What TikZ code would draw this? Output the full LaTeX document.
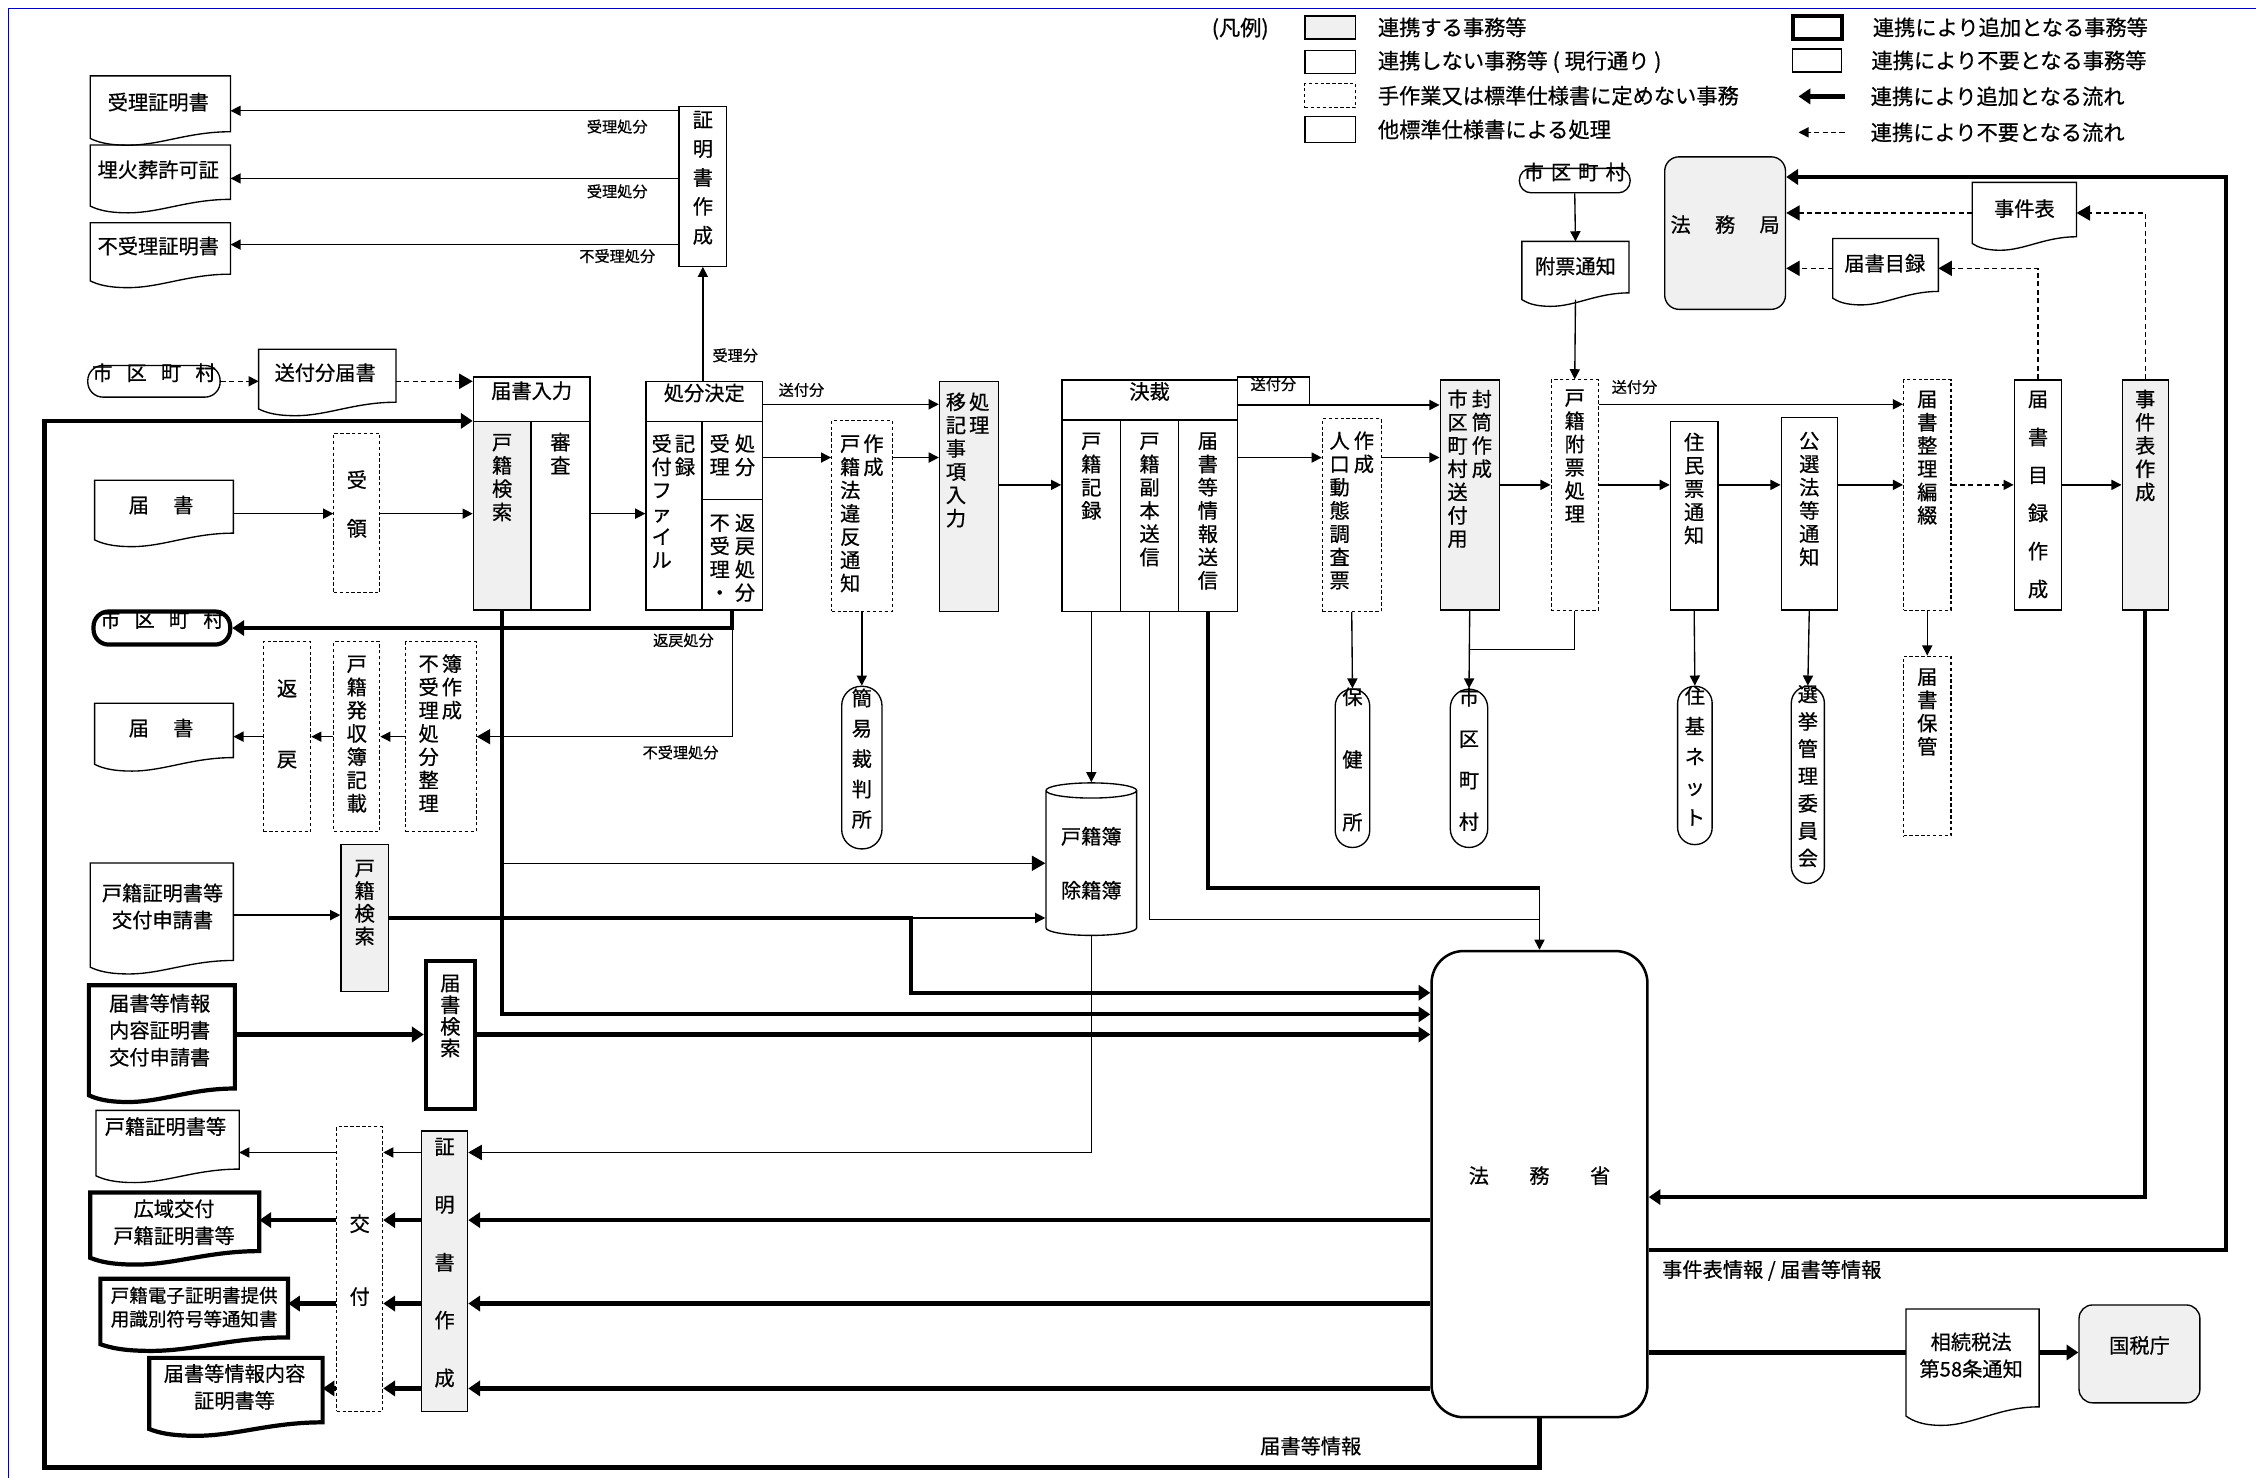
\documentclass[tikz,border=0pt]{standalone}
\usepackage{fontspec}
\setmainfont{Noto Sans CJK JP}[FakeBold=0.6]
\usetikzlibrary{arrows.meta, positioning, calc, fit, shapes.geometric}

% vertical text: one character per line, #1 = pitch
\makeatletter
\newcommand\tate[2][1.15em]{\vtop{\offinterlineskip\@tfor\tate@c:=#2\do{\hbox to 1em{\hss\vrule width 0pt height .88em depth .12em\tate@c\hss}\kern\dimexpr#1-1em\relax}\unkern}}
\makeatother

% document outline with wavy bottom
\newcommand\docshape[3][]{%
  \draw[line width=0.8pt,#1] let \p1=(#2.south west), \p2=(#2.north east), \n1={\x2-\x1} in
    (\p1) -- (\x1,\y2) -- (\p2) -- (\x2,\y1+#3)
    .. controls (\x2-0.3*\n1,\y1+#3) and (\x1+0.5*\n1,\y1-#3) .. (\x1+0.27*\n1,\y1-#3)
    .. controls (\x1+0.12*\n1,\y1-#3) and (\x1+0.05*\n1,\y1-0.5*#3) .. (\p1) -- cycle;}

\begin{document}
\begin{tikzpicture}[x=0.03cm, y=-0.03cm, inner sep=0pt,
  font=\fontsize{12}{14}\selectfont,
  box/.style={draw, line width=0.8pt},
  gbox/.style={box, fill=gray!12},
  dbox/.style={draw, line width=0.6pt, dash pattern=on 2pt off 1.5pt},
  tbox/.style={draw, line width=2.5pt},
  term/.style={box, rounded corners=#1}, term/.default=9pt,
  lbl/.style={font=\fontsize{9}{10}\selectfont},
  lg/.style={font=\fontsize{12.6}{14}\selectfont},
  ln/.style={line width=0.8pt},
  arr/.style={ln, -{Triangle[length=6pt,width=6pt]}},
  barr/.style={ln, -{Triangle[length=8pt,width=9pt]}},
  darr/.style={arr, dash pattern=on 3pt off 2pt},
  dbarr/.style={barr, dash pattern=on 3pt off 2pt},
  tline/.style={line width=2.5pt},
  tarr/.style={tline, -{Triangle[length=7pt,width=9pt]}}]

\useasboundingbox (0,0) rectangle (1568,1027);
\draw[blue!75!black, line width=0.6pt] (6,1027) -- (6,6) -- (1568,6);

% legend
\node[lg] (lg-title) at (862,20) {(凡例)};
\node[gbox, fit={(907,11)(942,27)}] (lg-1) {};
\node[lg, right=0.45cm of lg-1] (lg-1t) {連携する事務等};
\node[box, fit={(907,35)(942,51)}] (lg-2) {};
\node[lg, right=0.45cm of lg-2] (lg-2t) {連携しない事務等 ( 現行通り )};
\node[dbox, fit={(907,58)(942,75)}] (lg-3) {};
\node[lg, right=0.45cm of lg-3] (lg-3t) {手作業又は標準仕様書に定めない事務};
\node[box, fit={(907,81)(942,99)}] (lg-4) {};
\node[lg, right=0.45cm of lg-4] (lg-4t) {他標準仕様書による処理};
\node[tbox, fit={(1246,11)(1280,27)}] (lg-5) {};
\node[lg, right=0.6cm of lg-5] (lg-5t) {連携により追加となる事務等};
\node[box, fit={(1246,34)(1280,50)}] (lg-6) {};
\node[lg, right=0.6cm of lg-6] (lg-6t) {連携により不要となる事務等};
\coordinate (lg-7a) at (1282,67);
\coordinate (lg-7b) at (1250,67);
\draw[tarr] (lg-7a) -- (lg-7b);
\node[lg, right=0.54cm of lg-7a] (lg-7t) {連携により追加となる流れ};
\coordinate (lg-8a) at (1282,92);
\coordinate (lg-8b) at (1250,92);
\draw[darr] (lg-8a) -- (lg-8b);
\node[lg, right=0.54cm of lg-8a] (lg-8t) {連携により不要となる流れ};

% rows used by the connectors
\coordinate (row-sofu) at (0,281);
\coordinate (row-jyuri) at (0,318);
\coordinate (row-main) at (0,337);
\coordinate (row-in) at (0,357);
\coordinate (row-ret) at (0,512);
\coordinate (row-joho) at (0,617);
\coordinate (row-fukuhon) at (0,639);
\coordinate (row-koseki) at (0,690);
\coordinate (row-kensaku) at (0,705);
\coordinate (row-todoke) at (0,719);
\coordinate (row-c1) at (0,801);
\coordinate (row-jiken) at (0,832);
\coordinate (row-c2) at (0,848);
\coordinate (row-c3) at (0,906);
\coordinate (row-sozoku) at (0,940);
\coordinate (row-c4) at (0,965);

% certificates (top left)
\node[box, fit={(472,74)(505,185)}] (shomei-1) {\tate[1.43em]{証明書作成}};
\node[fit={(63,53)(160,96)}] (d-jyuri) {};
\node (d-jyuri-t) at (110,71) {受理証明書};
\node[fit={(63,101)(160,143)}] (d-maika) {};
\node (d-maika-t) at (110,118) {埋火葬許可証};
\node[fit={(63,155)(160,195)}] (d-fujyuri) {};
\node (d-fujyuri-t) at (110,171) {不受理証明書};
\docshape{d-jyuri}{4pt}
\docshape{d-maika}{4pt}
\docshape{d-fujyuri}{4pt}
\node[lbl] (l-jyuri-1) at (429,88) {受理処分};
\node[lbl] (l-jyuri-2) at (429,133) {受理処分};
\node[lbl] (l-fujyuri-1) at (429,178) {不受理処分};

% 届書入力
\node[term=9pt, fit={(61,254)(153,276)}] (shi-1) {市\hspace{.7em}区\hspace{.7em}町\hspace{.7em}村};
\node[fit={(180,243)(275,284)}] (d-sofu) {};
\node (d-sofu-t) at (226,259) {送付分届書};
\docshape{d-sofu}{4pt}
\node[box, fit={(329,262)(410,293)}] (todoke-h) {届書入力};
\node[gbox, fit={(329,293)(369,424)}] (kensaku-1) {};
\node[anchor=north] (kensaku-1t) at (349,300) {\tate{戸籍検索}};
\node[box, fit={(369,293)(410,424)}] (shinsa) {};
\node[anchor=north] (shinsa-t) at (389.5,300) {\tate{審査}};
\node[dbox, fit={(232,301)(264,412)}] (juryo) {\tate[2.4em]{受領}};
\node[fit={(66,334)(162,375)}] (d-todoke-1) {};
\node (d-todoke-1t) at (112,351) {届\hspace{1.2em}書};
\docshape{d-todoke-1}{4pt}

% 処分決定
\node[box, fit={(449,265)(530,293)}] (kettei-h) {処分決定};
\node[box, fit={(449,293)(488,424)}] (uketsuke) {};
\node[anchor=north] (uketsuke-t) at (468,301) {\tate{受付ファイル}\kern.15em\tate{記録}};
\node[box, fit={(488,293)(530,347)}] (jyuri) {};
\node[anchor=north] (jyuri-t) at (509,301) {\tate{受理}\kern.25em\tate{処分}};
\node[box, fit={(488,347)(530,424)}] (fujyuri) {};
\node[anchor=north] (fujyuri-t) at (509,356) {\tate{不受理・}\kern.25em\tate{返戻処分}};
\node[lbl] (l-jyuribun) at (511,247) {受理分};

% 返戻・不受理
\node[tbox, rounded corners=9pt, fit={(65,425)(160,448)}] (shi-2) {市\hspace{.7em}区\hspace{.7em}町\hspace{.7em}村};
\node[dbox, fit={(282,446)(331,578)}] (seiri) {};
\node[anchor=north] (seiri-t) at (306,454) {\tate{不受理処分整理}\kern.15em\tate{簿作成}};
\node[dbox, fit={(232,446)(264,578)}] (hasshu) {};
\node[anchor=north] (hasshu-t) at (248,454) {\tate{戸籍発収簿記載}};
\node[dbox, fit={(183,446)(216,578)}] (henrei) {};
\node (henrei-t) at (199.5,503) {\tate[3.5em]{返戻}};
\node[fit={(66,489)(162,531)}] (d-todoke-2) {};
\node (d-todoke-2t) at (112,506) {届\hspace{1.2em}書};
\docshape{d-todoke-2}{4pt}
\node[lbl] (l-henrei) at (475,445) {返戻処分};
\node[lbl] (l-fujyuri-2) at (473,523) {不受理処分};

% 違反通知・移記
\node[dbox, fit={(578,292)(620,425)}] (ihan) {};
\node[anchor=north] (ihan-t) at (599,301) {\tate{戸籍法違反通知}\kern.15em\tate{作成}};
\node[gbox, fit={(653,265)(694,425)}] (iki) {};
\node[anchor=north] (iki-t) at (672.5,272) {\tate{移記事項入力}\kern.15em\tate{処理}};
\node[term=11.5pt, fit={(585,477)(613,590)}] (kansai) {\tate[1.5em]{簡易裁判所}};
\node[lbl] (l-sofu-1) at (557,271) {送付分};

% 決裁
\node[box, fit={(738,264)(860,292)}] (kessai-h) {決裁};
\node[box, fit={(738,292)(779,425)}] (kiroku) {};
\node[anchor=north] (kiroku-t) at (758.5,299) {\tate{戸籍記録}};
\node[box, fit={(779,292)(819,425)}] (fukuhon) {};
\node[anchor=north] (fukuhon-t) at (799,299) {\tate{戸籍副本送信}};
\node[box, fit={(819,292)(860,425)}] (joho) {};
\node[anchor=north] (joho-t) at (839.5,299) {\tate{届書等情報送信}};
\node[box, lbl, fit={(860,262)(910,281)}] (l-sofu-2) {送付分};
\node[dbox, fit={(919,291)(960,425)}] (jinko) {};
\node[anchor=north] (jinko-t) at (939.5,299) {\tate{人口動態調査票}\kern.2em\tate{作成}};
\node[gbox, fit={(1001,264)(1042,424)}] (fuutou) {};
\node[anchor=north] (fuutou-t) at (1021.5,270) {\tate{市区町村送付用}\kern.2em\tate{封筒作成}};
\node[term=10pt, fit={(928,479)(952,589)}] (hokenjo) {\tate[3.1em]{保健所}};
\node[term=11pt, fit={(1008,479)(1034,589)}] (shi-3) {\tate[2.05em]{市区町村}};

% 附票
\node[term=7pt, fit={(1056,117)(1133,134)}] (shi-4) {市\hspace{.35em}区\hspace{.35em}町\hspace{.35em}村};
\node[fit={(1058,168)(1132,208)}] (d-fuhyo) {};
\node (d-fuhyo-t) at (1095,185) {附票通知};
\docshape{d-fuhyo}{4pt}
\node[dbox, fit={(1078,264)(1111,424)}] (fuhyo) {};
\node[anchor=north] (fuhyo-t) at (1094.5,269) {\tate{戸籍附票処理}};
\node[lbl] (l-sofu-3) at (1136,269) {送付分};

% 住民票・公選法
\node[box, fit={(1161,293)(1194,424)}] (jumin) {};
\node[anchor=north] (jumin-t) at (1177.5,300) {\tate{住民票通知}};
\node[term=10pt, fit={(1166,477)(1190,587)}] (jukinet) {\tate[1.5em]{住基ネット}};
\node[box, fit={(1238,290)(1277,424)}] (kousen) {};
\node[anchor=north] (kousen-t) at (1257.5,299) {\tate{公選法等通知}};
\node[term=10pt, fit={(1245,477)(1268,614)}] (senkyo) {\tate[1.35em]{選挙管理委員会}};

% 届書整理・目録・事件表
\node[dbox, fit={(1323,264)(1356,424)}] (hensetsu) {};
\node[anchor=north] (hensetsu-t) at (1339.5,270) {\tate{届書整理編綴}};
\node[dbox, fit={(1323,456)(1356,581)}] (hokan) {};
\node[anchor=north] (hokan-t) at (1339.5,463) {\tate{届書保管}};
\node[box, fit={(1400,264)(1433,424)}] (mokuroku) {};
\node[anchor=north] (mokuroku-t) at (1416.5,270) {\tate[1.88em]{届書目録作成}};
\node[gbox, fit={(1475,264)(1507,424)}] (jiken-s) {};
\node[anchor=north] (jiken-s-t) at (1491,270) {\tate{事件表作成}};

\node[gbox, rounded corners=8.5pt, fit={(1157,109)(1241,215)}] (houmukyoku) {法\hspace{1.2em}務\hspace{1.2em}局};
\node[fit={(1371,127)(1443,169)}] (d-jiken) {};
\node (d-jiken-t) at (1407,145) {事件表};
\docshape{d-jiken}{4pt}
\node[fit={(1274,166)(1347,207)}] (d-mokuroku) {};
\node (d-mokuroku-t) at (1310,183) {届書目録};
\docshape{d-mokuroku}{4pt}

% 法務省
\node[draw, line width=1.5pt, rounded corners=19pt, fit={(995,661)(1145,985)}] (houmusho) {法\hspace{2em}務\hspace{2em}省};
\node[anchor=west] (l-jiken) at (1155,883) {事件表情報 / 届書等情報};
\node[fit={(1325,910)(1417,984)}] (d-sozoku) {};
\node[align=center] (d-sozoku-t) at (1370,942) {相続税法\\[2pt]第58条通知};
\docshape{d-sozoku}{5.5pt}
\node[gbox, rounded corners=8pt, fit={(1445,907)(1529,975)}] (kokuzei) {国税庁};
\node (l-todoke) at (911,1005) {届書等情報};

% 戸籍簿
\node[cylinder, draw, line width=0.8pt, shape border rotate=90, aspect=0.25,
  minimum width=1.89cm, minimum height=3.18cm, align=center] (koseki-bo) at (758.5,600) {戸籍簿\\[18pt]除籍簿};

% 戸籍証明書・届書等情報の請求
\node[gbox, fit={(237,587)(270,689)}] (kensaku-2) {};
\node[anchor=north] (kensaku-2t) at (253.5,596) {\tate[1.12em]{戸籍検索}};
\node[fit={(63,600)(162,672)}] (d-shinsei-1) {};
\node[align=center] (d-shinsei-1t) at (113,630) {戸籍証明書等\\[2pt]交付申請書};
\docshape{d-shinsei-1}{4pt}
\node[fit={(62,685)(163,761)}] (d-shinsei-2) {};
\node[align=center] (d-shinsei-2t) at (111,716) {届書等情報\\[2pt]内容証明書\\[2pt]交付申請書};
\docshape[line width=2.5pt]{d-shinsei-2}{4pt}
\node[tbox, fit={(296,668)(330,771)}] (todoke-kensaku) {};
\node[anchor=north] (todoke-kensaku-t) at (313,676) {\tate[1.07em]{届書検索}};

% 証明書作成・交付
\node[gbox, fit={(293,786)(325,981)}] (shomei-2) {\tate[2.86em]{証明書作成}};
\node[dbox, fit={(234,783)(266,981)}] (koufu) {\tate[3.6em]{交付}};
\node[fit={(67,772)(166,817)}] (d-koseki) {};
\node (d-koseki-t) at (115,783) {戸籍証明書等};
\docshape{d-koseki}{4pt}
\node[fit={(63,829)(180,874)}] (d-kouiki) {};
\node[align=center] (d-kouiki-t) at (121,849.5) {広域交付\\[2pt]戸籍証明書等};
\docshape[line width=2.5pt]{d-kouiki}{4pt}
\node[fit={(70,889)(200,934)}] (d-denshi) {};
\node[align=center, font=\fontsize{11}{13}\selectfont] (d-denshi-t) at (135,908.5) {戸籍電子証明書提供\\[1pt]用識別符号等通知書};
\docshape[line width=2.5pt]{d-denshi}{4pt}
\node[fit={(104,944)(224,993)}] (d-todoke-sho) {};
\node[align=center] (d-todoke-sho-t) at (163,964) {届書等情報内容\\[2pt]証明書等};
\docshape[line width=2.5pt]{d-todoke-sho}{4pt}

% connectors
\draw[arr] (shomei-1.west |- 0,77) -- (d-jyuri.east |- 0,77);
\draw[arr] (shomei-1.west |- 0,124) -- (d-maika.east |- 0,124);
\draw[arr] (shomei-1.west |- 0,170) -- (d-fujyuri.east |- 0,170);
\draw[arr] (shomei-1.south |- kettei-h.north) -- (shomei-1.south);
\draw[darr] (shi-1.east) -- (shi-1.east -| d-sofu.west);
\draw[dbarr] (d-sofu.east |- shi-1.east) -- (shi-1.east -| todoke-h.west);
\draw[arr] (d-todoke-1.east |- row-in) -- (juryo.west |- row-in);
\draw[arr] (juryo.east |- row-in) -- (kensaku-1.west |- row-in);
\draw[arr] (shinsa.east |- row-in) -- (uketsuke.west |- row-in);
\draw[barr] (fujyuri.south) |- (seiri.east |- row-ret);
\draw[tarr] (fujyuri.south) |- (shi-2.east);
\draw[arr] (seiri.west |- row-ret) -- (hasshu.east |- row-ret);
\draw[arr] (hasshu.west |- row-ret) -- (henrei.east |- row-ret);
\draw[arr] (henrei.west |- row-ret) -- (d-todoke-2.east |- row-ret);
\draw[arr] (kettei-h.east |- row-sofu) -- (iki.west |- row-sofu);
\draw[arr] (jyuri.east |- row-jyuri) -- (ihan.west |- row-jyuri);
\draw[arr] (ihan.east |- row-jyuri) -- (iki.west |- row-jyuri);
\draw[arr] (ihan.south) -- (kansai.north);
\draw[arr] (iki.east |- row-main) -- (kiroku.west |- row-main);
\draw[arr] (l-sofu-2.south west) -- (l-sofu-2.south west -| fuutou.west);
\draw[arr] (joho.east |- row-jyuri) -- (jinko.west |- row-jyuri);
\draw[arr] (jinko.east |- row-jyuri) -- (fuutou.west |- row-jyuri);
\draw[arr] (jinko.south) -- (hokenjo.north);
\draw[arr] (fuutou.south) -- (shi-3.north);
\draw[arr] (shi-4.south) -- (d-fuhyo.north);
\draw[arr] (d-fuhyo.south) -- (fuhyo.north);
\draw[arr] (fuutou.east |- row-main) -- (fuhyo.west |- row-main);
\draw[ln] (fuhyo.south) |- ($(fuutou.south)!.5!(shi-3.north)$);
\draw[arr] (fuhyo.east |- row-main) -- (jumin.west |- row-main);
\draw[arr] (jumin.east |- row-main) -- (kousen.west |- row-main);
\draw[arr] (kousen.east |- row-main) -- (hensetsu.west |- row-main);
\draw[arr] (jumin.south) -- (jukinet.north);
\draw[arr] (kousen.south) -- (senkyo.north);
\draw[arr] (fuhyo.east |- row-sofu) -- (hensetsu.west |- row-sofu);
\draw[arr] (hensetsu.south) -- (hokan.north);
\draw[darr] (hensetsu.east |- row-main) -- (mokuroku.west |- row-main);
\draw[arr] (mokuroku.east |- row-main) -- (jiken-s.west |- row-main);
\draw[dbarr] (jiken-s.north) |- (d-jiken.east);
\draw[dbarr] (d-jiken.west) -- (d-jiken.west -| houmukyoku.east);
\draw[dbarr] (mokuroku.north) |- (d-mokuroku.east);
\draw[dbarr] (d-mokuroku.west) -- (d-mokuroku.west -| houmukyoku.east);

\coordinate (out-tr) at (1547,123);
\coordinate (out-br) at (1547,869);
\coordinate (out-bl) at (31,1020);
\draw[tarr] (out-br -| houmusho.east) -- (out-br) -- (out-tr) -- (out-tr -| houmukyoku.east);
\draw[tarr] (jiken-s.south) |- (houmusho.east |- row-jiken);
\draw[tline] (houmusho.east |- row-sozoku) -- (d-sozoku.west |- row-sozoku);
\draw[tarr] (d-sozoku.east |- row-sozoku) -- (kokuzei.west |- row-sozoku);
\draw[tarr] (houmusho.south) |- (out-bl) |- (kensaku-1.north west);

\draw[arr] (kiroku.south) -- (kiroku.south |- koseki-bo.north);
\draw[ln] (fukuhon.south) |- (houmusho.north |- row-fukuhon);
\draw[tline] (joho.south) |- (houmusho.north |- row-joho);
\draw[arr] (houmusho.north |- row-joho) -- (houmusho.north);
\draw[tarr] (kensaku-1.south) |- (houmusho.west |- row-kensaku);
\draw[barr] (kensaku-1.south |- koseki-bo.west) -- (koseki-bo.west);

\coordinate (k2-turn) at (633,638);
\draw[arr] (d-shinsei-1.east) -- (d-shinsei-1.east -| kensaku-2.west);
\draw[tarr] (kensaku-2.east) -- (k2-turn) |- (houmusho.west |- row-koseki);
\draw[arr] (k2-turn) -- (k2-turn -| koseki-bo.west);
\draw[tarr] (d-shinsei-2.east |- row-todoke) -- (todoke-kensaku.west |- row-todoke);
\draw[tarr] (todoke-kensaku.east |- row-todoke) -- (houmusho.west |- row-todoke);

\draw[barr] (koseki-bo.south) |- (shomei-2.east |- row-c1);
\draw[tarr] (houmusho.west |- row-c2) -- (shomei-2.east |- row-c2);
\draw[tarr] (houmusho.west |- row-c3) -- (shomei-2.east |- row-c3);
\draw[tarr] (houmusho.west |- row-c4) -- (shomei-2.east |- row-c4);
\draw[arr] (shomei-2.west |- row-c1) -- (koufu.east |- row-c1);
\draw[tarr] (shomei-2.west |- row-c2) -- (koufu.east |- row-c2);
\draw[tarr] (shomei-2.west |- row-c3) -- (koufu.east |- row-c3);
\draw[tarr] (shomei-2.west |- row-c4) -- (koufu.east |- row-c4);
\draw[arr] (koufu.west |- row-c1) -- (d-koseki.east |- row-c1);
\draw[tarr] (koufu.west |- row-c2) -- (d-kouiki.east |- row-c2);
\draw[tarr] (koufu.west |- row-c3) -- (d-denshi.east |- row-c3);
\draw[tarr] (koufu.west |- row-c4) -- (d-todoke-sho.east |- row-c4);
\end{tikzpicture}
\end{document}
